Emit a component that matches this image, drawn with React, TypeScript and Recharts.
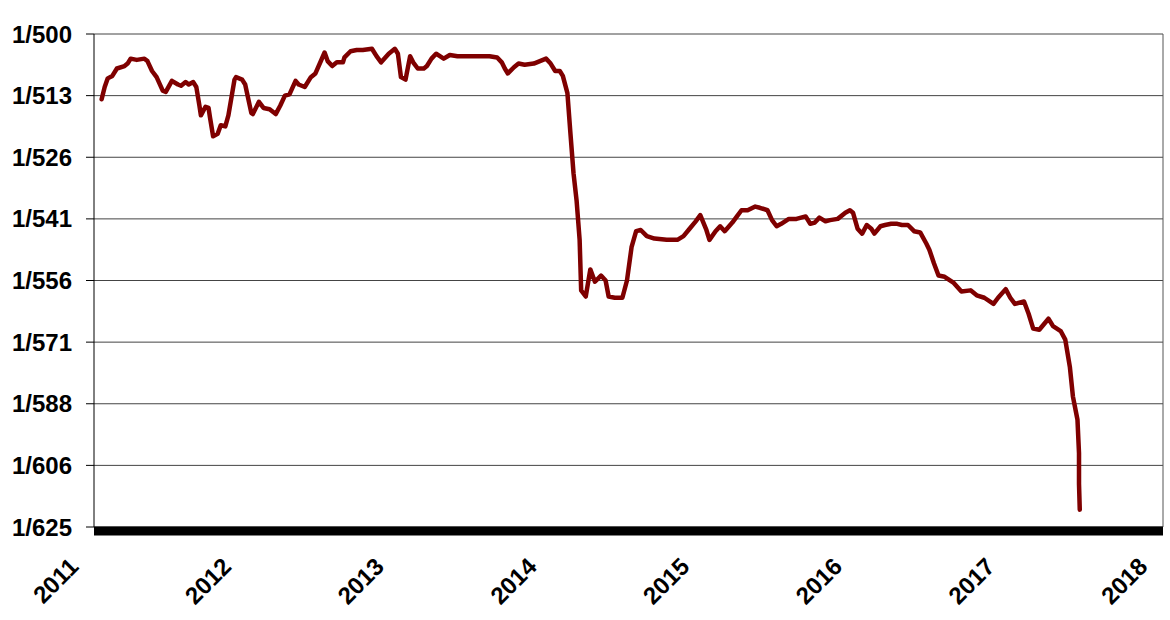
import React from "react";
import {
  LineChart,
  Line,
  XAxis,
  YAxis,
  CartesianGrid,
  ReferenceLine,
} from "recharts";

// decimal years
const dates = [
  2011.05, 2011.07, 2011.09, 2011.12, 2011.15, 2011.2, 2011.22, 2011.24, 2011.28, 2011.33, 2011.35, 2011.38,
  2011.41, 2011.45, 2011.47, 2011.51, 2011.55, 2011.57, 2011.6, 2011.62, 2011.65, 2011.67, 2011.69, 2011.7,
  2011.73, 2011.75, 2011.76, 2011.78, 2011.81, 2011.83, 2011.86, 2011.88, 2011.92, 2011.93, 2011.97, 2011.99,
  2012.03, 2012.04, 2012.08, 2012.11, 2012.15, 2012.19, 2012.22, 2012.25, 2012.28, 2012.32, 2012.34, 2012.38,
  2012.42, 2012.45, 2012.51, 2012.53, 2012.56, 2012.59, 2012.63, 2012.64, 2012.68, 2012.72, 2012.76, 2012.82,
  2012.85, 2012.88, 2012.93, 2012.97, 2012.99,
  2013.01, 2013.04, 2013.07, 2013.09, 2013.12, 2013.16, 2013.18, 2013.21, 2013.24, 2013.29, 2013.33, 2013.38,
  2013.44, 2013.53, 2013.59, 2013.64, 2013.67, 2013.69, 2013.71, 2013.75, 2013.78, 2013.82, 2013.88, 2013.92,
  2013.96, 2013.99,
  2014.02, 2014.05, 2014.07, 2014.1, 2014.12, 2014.14, 2014.16, 2014.18, 2014.19, 2014.22, 2014.25, 2014.28,
  2014.32, 2014.35, 2014.37, 2014.41, 2014.46, 2014.49, 2014.52, 2014.55, 2014.58, 2014.62, 2014.67, 2014.75,
  2014.82, 2014.86, 2014.9, 2014.94, 2014.97,
  2015.01, 2015.03, 2015.07, 2015.1, 2015.13, 2015.18, 2015.21, 2015.24, 2015.28, 2015.33, 2015.36, 2015.41,
  2015.44, 2015.47, 2015.5, 2015.55, 2015.6, 2015.66, 2015.69, 2015.72, 2015.75, 2015.79, 2015.82, 2015.87,
  2015.92, 2015.95, 2015.97,
  2016.0, 2016.03, 2016.06, 2016.09, 2016.11, 2016.15, 2016.18, 2016.22, 2016.26, 2016.29, 2016.33, 2016.37,
  2016.41, 2016.45, 2016.47, 2016.5, 2016.53, 2016.57, 2016.63, 2016.68, 2016.74, 2016.78, 2016.83, 2016.89,
  2016.92, 2016.97,
  2017.0, 2017.03, 2017.09, 2017.12, 2017.15, 2017.19, 2017.25, 2017.28, 2017.33, 2017.36, 2017.39, 2017.41,
  2017.44, 2017.45, 2017.45, 2017.455,
];

// rate in units of 1e-5 (200 = 1/500, 160 = 1/625)
const rates = [
  194.7, 195.7, 196.4, 196.6, 197.2, 197.4, 197.6, 198.0, 197.9, 198.0, 197.8, 197.0,
  196.5, 195.4, 195.3, 196.2, 195.9, 195.8, 196.1, 195.9, 196.1, 195.7, 194.2, 193.4,
  194.1, 194.0, 193.2, 191.7, 191.9, 192.6, 192.5, 193.4, 196.3, 196.5, 196.3, 195.9,
  193.6, 193.5, 194.5, 194.0, 193.9, 193.5, 194.2, 195.0, 195.1, 196.2, 195.9, 195.7,
  196.5, 196.8, 198.5, 197.8, 197.4, 197.7, 197.7, 198.1, 198.6, 198.7, 198.7, 198.8,
  198.2, 197.7, 198.4, 198.8, 198.4,
  196.5, 196.3, 198.2, 197.7, 197.2, 197.2, 197.4, 198.0, 198.4, 198.0, 198.3, 198.2,
  198.2, 198.2, 198.2, 198.1, 197.7, 197.2, 196.8, 197.3, 197.6, 197.5, 197.6, 197.8,
  198.0, 197.6,
  197.0, 197.0, 196.6, 195.2, 191.9, 188.7, 186.5, 183.3, 179.2, 178.7, 180.9, 179.9,
  180.4, 180.0, 178.7, 178.6, 178.6, 180.0, 182.7, 184.0, 184.1, 183.6, 183.4, 183.3,
  183.3, 183.6, 184.2, 184.8, 185.3,
  184.1, 183.3, 184.0, 184.4, 184.0, 184.7, 185.2, 185.7, 185.7, 186.0, 185.9, 185.7,
  184.9, 184.4, 184.6, 185.0, 185.0, 185.2, 184.6, 184.7, 185.1, 184.8, 184.9, 185.0,
  185.5, 185.7, 185.5,
  184.2, 183.8, 184.5, 184.2, 183.8, 184.4, 184.5, 184.6, 184.6, 184.5, 184.5, 184.0,
  183.9, 183.0, 182.5, 181.4, 180.4, 180.3, 179.8, 179.1, 179.2, 178.8, 178.6, 178.1,
  178.6, 179.3,
  178.6, 178.1, 178.3, 177.3, 176.1, 176.0, 176.9, 176.3, 175.9, 175.2, 173.0, 170.6,
  168.7, 166.0, 163.5, 161.4,
];

const yearTicks = [2011, 2012, 2013, 2014, 2015, 2016, 2017, 2018];
const rateTicks = [160, 165, 170, 175, 180, 185, 190, 195, 200];
const rateLabels = ["1/625", "1/606", "1/588", "1/571", "1/556", "1/541", "1/526", "1/513", "1/500"];

const data = dates.map((t, i) => ({ t, rate: rates[i] }));

const FONT = "'Liberation Sans', Arial, sans-serif";

function YearTick({ x, y, payload }: any) {
  const ax = x - 14;
  const ay = y + 33;
  return (
    <text
      x={ax}
      y={ay}
      transform={`rotate(-45 ${ax} ${ay})`}
      textAnchor="end"
      fontFamily={FONT}
      fontWeight="bold"
      fontSize={24}
      fill="#000"
    >
      {payload.value}
    </text>
  );
}

export default function App() {
  return (
    <div style={{ position: "absolute", left: 0, top: 0, width: 1170, height: 620, background: "#fff" }}>
      <LineChart width={1170} height={620} data={data} margin={{ top: 34, right: 7, bottom: 0, left: 0 }}>
        <CartesianGrid vertical={false} stroke="#444" strokeWidth={1} />
        <XAxis
          type="number"
          dataKey="t"
          domain={[2011, 2018]}
          ticks={yearTicks}
          height={93}
          tickLine={false}
          axisLine={{ stroke: "#000", strokeWidth: 9, transform: "translate(0,4)" }}
          tick={<YearTick />}
          interval={0}
        />
        <YAxis
          type="number"
          domain={[160, 200]}
          ticks={rateTicks}
          width={94}
          tickSize={8}
          tickMargin={14}
          stroke="#000"
          tickLine={{ stroke: "#000" }}
          tickFormatter={(v) => rateLabels[rateTicks.indexOf(v)]}
          tick={{ fontFamily: FONT, fontWeight: "bold", fontSize: 24, fill: "#000" }}
          interval={0}
        />
        <ReferenceLine x={2018} stroke="#555" />
        <Line
          type="linear"
          dataKey="rate"
          stroke="#7f0000"
          strokeWidth={4.5}
          strokeLinejoin="round"
          strokeLinecap="round"
          dot={false}
          isAnimationActive={false}
        />
      </LineChart>
    </div>
  );
}
